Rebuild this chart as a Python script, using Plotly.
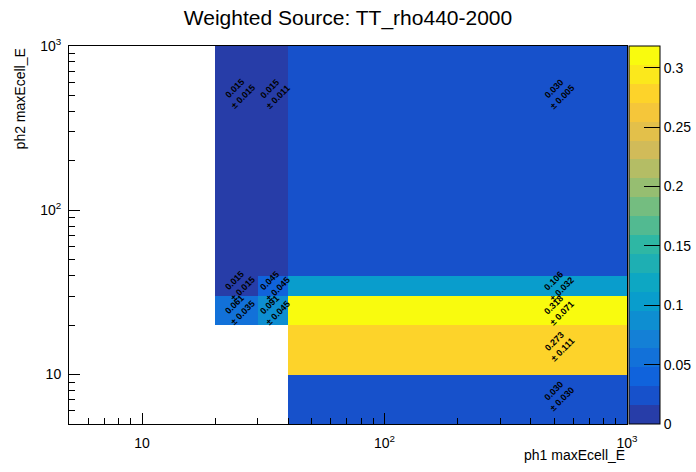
import numpy as np
import plotly.graph_objects as go

# ---- data ----
x_edges = [20, 30, 40, 1000]
y_edges = [5, 10, 20, 30, 40, 1000]
# rows: y bins (low -> high), cols: x bins
values = [
    [None, None, 0.030],
    [None, None, 0.273],
    [0.061, 0.091, 0.318],
    [0.015, 0.045, 0.106],
    [0.015, 0.015, 0.030],
]
errors = [
    [None, None, 0.030],
    [None, None, 0.111],
    [0.035, 0.045, 0.071],
    [0.015, 0.045, 0.032],
    [0.015, 0.011, 0.005],
]
title = "Weighted Source: TT_rho440-2000"
x_title = "ph1 maxEcell_E"
y_title = "ph2 maxEcell_E"
cbar_ticks = [0, 0.05, 0.1, 0.15, 0.2, 0.25, 0.3]
zmax = 0.3182
ndiv = 20

# ---- ROOT kBird palette, discretised into ndiv contour bands ----
stops = [0.0, 0.125, 0.25, 0.375, 0.5, 0.625, 0.75, 0.875, 1.0]
red = [0.2082, 0.0592, 0.0780, 0.0232, 0.1802, 0.5301, 0.8186, 0.9956, 0.9764]
green = [0.1664, 0.3599, 0.5041, 0.6419, 0.7178, 0.7492, 0.7328, 0.7862, 0.9832]
blue = [0.5293, 0.8684, 0.8385, 0.7914, 0.6425, 0.4662, 0.3499, 0.1968, 0.0539]
ncolors = 255


def bird(t):
    r = np.interp(t, stops, red)
    g = np.interp(t, stops, green)
    b = np.interp(t, stops, blue)
    return "rgb(%d,%d,%d)" % (round(r * 255), round(g * 255), round(b * 255))


colorscale = []
for i in range(ndiv):
    k = int((i + 0.99) * ncolors / ndiv)
    k = min(k, ncolors - 1)
    c = bird(k / (ncolors - 1))
    colorscale.append([i / ndiv, c])
    colorscale.append([(i + 1) / ndiv, c])

z = [[np.nan if v is None else v for v in row] for row in values]

FONT = "Liberation Sans, Arial, Helvetica"

fig = go.Figure()
fig.add_trace(go.Heatmap(
    x=x_edges, y=y_edges, z=z,
    zmin=0, zmax=zmax,
    colorscale=colorscale,
    hoverongaps=False,
    colorbar=dict(
        x=1.003, xanchor="left", y=0.5, yanchor="middle",
        len=1.0, lenmode="fraction", thickness=31,
        xpad=0, ypad=0,
        outlinecolor="black", outlinewidth=1,
        tickvals=cbar_ticks, ticktext=[("%g" % t) for t in cbar_ticks],
        ticks="inside", ticklen=16, tickcolor="black",
        tickfont=dict(family=FONT, size=14, color="black"),
    ),
))

# text labels at (linear) bin centres, rotated 45 deg
annotations = []
for j in range(len(y_edges) - 1):
    for i in range(len(x_edges) - 1):
        v = values[j][i]
        if v is None:
            continue
        xc = 0.5 * (x_edges[i] + x_edges[i + 1])
        yc = 0.5 * (y_edges[j] + y_edges[j + 1])
        annotations.append(dict(
            x=np.log10(xc), y=np.log10(yc), xref="x", yref="y",
            text="<b>%.3f</b><br><b>± %.3f</b>" % (v, errors[j][i]),
            showarrow=False, textangle=-45,
            font=dict(family=FONT, size=9, color="black"),
        ))

annotations.append(dict(
    x=1, y=-0.055, xref="paper", yref="paper", xanchor="right", yanchor="top",
    text=x_title, showarrow=False,
    font=dict(family=FONT, size=14, color="black"),
))
annotations.append(dict(
    x=-0.088, y=1, xref="paper", yref="paper", xanchor="center", yanchor="top",
    text=y_title, showarrow=False, textangle=-90,
    font=dict(family=FONT, size=14, color="black"),
))

major = [10, 100, 1000]
major_txt = ["10", "10<sup>2</sup>", "10<sup>3</sup>"]
minor = [m * d for d in (1, 10, 100) for m in range(2, 10)] + [5, 6, 7, 8, 9]
minor = sorted(set(v for v in minor if 5 <= v <= 1000 and v not in major))

axis_common = dict(
    type="log", range=[np.log10(5), 3],
    tickvals=major, ticktext=major_txt,
    ticks="inside", tickcolor="black", tickwidth=1,
    showline=True, linecolor="black", linewidth=1, mirror=True,
    showgrid=False, zeroline=False,
    tickfont=dict(family=FONT, size=14, color="black"),
    minor=dict(tickvals=minor, ticks="inside", ticklen=6, tickcolor="black", showgrid=False),
)

fig.update_layout(
    width=696, height=472,
    margin=dict(l=69, r=69, t=46, b=48, autoexpand=False),
    paper_bgcolor="white", plot_bgcolor="white",
    title=dict(text=title, x=0.5, xanchor="center", y=0.963, yanchor="middle",
               font=dict(family=FONT, size=21, color="black")),
    xaxis=dict(axis_common, ticklen=11, ticklabelstandoff=6),
    yaxis=dict(axis_common, ticklen=11, ticklabelstandoff=4),
    annotations=annotations,
    showlegend=False,
)

fig.write_html("out.html", config={"displayModeBar": False},
               post_script="document.body.style.margin='0';")
